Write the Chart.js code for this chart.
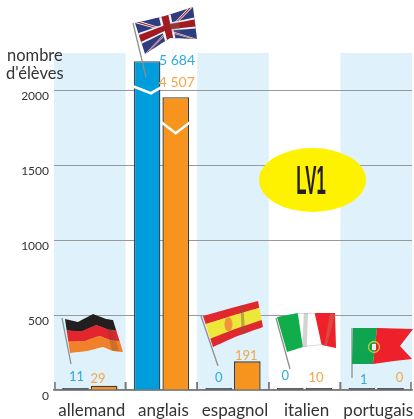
<!DOCTYPE html>
<html><head><meta charset="utf-8">
<style>html,body{margin:0;padding:0;background:#fff}canvas{display:block}</style>
<script src="https://cdn.jsdelivr.net/npm/chart.js@4"></script></head>
<body><canvas id="c" width="414" height="419"></canvas>
<script>
const categories = ["allemand","anglais","espagnol","italien","portugais"];
// real numbers of pupils, printed above the bars
const lv1Blue = [11,5684,0,0,1];
const lv1Orange = [29,4507,191,10,0];
// heights as drawn: the two large bars are cut by an axis break
const drawnBlue = [11,2192,0,0,1];
const drawnOrange = [29,1952,191,10,0];
const yTicks = [0,500,1000,1500,2000];
const blueColor = "#009ddc", orangeColor = "#f7941d";
const FONT = "Lato, 'Open Sans', sans-serif";
const fmt = v => String(v).replace(/\B(?=(\d{3})+$)/g," ");

// label nudges relative to the bar top
const blueNudge = [[1,-11],[30,-1],[0,-10],[-5,-12],[2,-8]];
const orangeNudge = [[-6,-7],[1,-15],[-1,-6],[-3,-10],[9,-10]];

function mapper(top,bot){
  const lerp=(pts,u0)=>{const u=Math.max(0,Math.min(1,u0)),t=u*(pts.length-1),i=Math.min(Math.floor(t),pts.length-2),f=t-i;
    return [pts[i][0]+(pts[i+1][0]-pts[i][0])*f,pts[i][1]+(pts[i+1][1]-pts[i][1])*f];};
  return (u,v)=>{const a=lerp(top,u),b=lerp(bot,u);return [a[0]+(b[0]-a[0])*v,a[1]+(b[1]-a[1])*v];};
}
function poly(ctx,m,uv,col){
  ctx.fillStyle=col;ctx.beginPath();
  uv.forEach((p,i)=>{const q=m(p[0],p[1]);i?ctx.lineTo(q[0],q[1]):ctx.moveTo(q[0],q[1]);});
  ctx.closePath();ctx.fill();
}
function rectUV(ctx,m,u0,u1,v0,v1,col){
  const n=12,uv=[];
  for(let i=0;i<=n;i++)uv.push([u0+(u1-u0)*i/n,v0]);
  for(let i=n;i>=0;i--)uv.push([u0+(u1-u0)*i/n,v1]);
  poly(ctx,m,uv,col);
}
function pole(ctx,a,b){ctx.strokeStyle="#8f8f8f";ctx.lineWidth=1.3;ctx.beginPath();ctx.moveTo(a[0],a[1]);ctx.lineTo(b[0],b[1]);ctx.stroke();}
function drawFlags(ctx){
  // Germany
  let m=mapper([[65,319],[78,322],[93,314],[106,319],[113,320]],[[70,353],[87,351],[103,347],[113,351],[123,352]]);
  pole(ctx,[62,318],[71,364]);
  rectUV(ctx,m,0,1,0,.34,"#231f20");rectUV(ctx,m,0,1,.33,.67,"#e2252f");rectUV(ctx,m,0,1,.66,1,"#f0812a");
  rectUV(ctx,m,.72,.9,.3,1,"rgba(120,70,50,.3)");
  // Spain
  m=mapper([[203,316],[235,307],[258,301]],[[213,347],[235,337],[263,327]]);
  pole(ctx,[201,316],[218,366]);
  rectUV(ctx,m,0,1,0,.27,"#e1282f");rectUV(ctx,m,0,1,.26,.74,"#ece738");rectUV(ctx,m,0,1,.73,1,"#e1282f");
  rectUV(ctx,m,.62,.68,0,1,"rgba(120,90,70,.45)");
  ctx.fillStyle="#f2953a";ctx.beginPath();let q=m(.38,.5);ctx.ellipse(q[0],q[1],4,7,0,0,7);ctx.fill();
  // Italy
  m=mapper([[277,317],[298,313],[315,313],[335,313]],[[287,352],[303,347],[322,345],[336,348]]);
  pole(ctx,[276,318],[290,369]);
  rectUV(ctx,m,0,.34,0,1,"#12ad4b");rectUV(ctx,m,.33,.67,0,1,"#ffffff");rectUV(ctx,m,.66,1,0,1,"#ee2029");
  rectUV(ctx,m,.33,.67,0,.025,"#d5d5d5");rectUV(ctx,m,.33,.67,.975,1,"#d5d5d5");
  poly(ctx,m,[[.45,0],[.53,0],[.4,1],[.31,1]],"rgba(140,150,140,.4)");
  poly(ctx,m,[[.92,0],[1,.05],[.78,1],[.72,1]],"rgba(200,120,90,.45)");
  // Portugal
  m=mapper([[353,328],[377,328],[413,329]],[[352,364],[373,364],[410,359]]);
  pole(ctx,[352,328],[352,378]);
  rectUV(ctx,m,0,.5,0,1,"#0fa44f");
  ctx.fillStyle="#ee2029";ctx.beginPath();
  [[377,328],[413,329],[400,346],[412,359],[394,361],[373,364]].forEach((p,i)=>i?ctx.lineTo(p[0],p[1]):ctx.moveTo(p[0],p[1]));ctx.closePath();ctx.fill();
  ctx.strokeStyle="#c9c83a";ctx.lineWidth=1.3;ctx.beginPath();ctx.arc(374,347,5.5,0,7);ctx.stroke();
  ctx.fillStyle="#eee";ctx.fillRect(372,344,4,6);
  // United Kingdom
  m=mapper([[135,23],[165,16],[193,7]],[[145,54],[170,38],[197,39]]);
  pole(ctx,[133,23],[146,77]);
  rectUV(ctx,m,0,1,0,1,"#2f3c80");
  const diag=(a,b,w,c)=>poly(ctx,m,[[a[0]-w,a[1]],[a[0]+w,a[1]],[b[0]+w,b[1]],[b[0]-w,b[1]]],c);
  diag([.05,0],[.95,1],.05,"#f4f4f4");diag([.95,0],[.05,1],.05,"#f4f4f4");
  diag([.05,0],[.95,1],.02,"#a11a22");diag([.95,0],[.05,1],.02,"#a11a22");
  rectUV(ctx,m,.4,.6,0,1,"#f4f4f4");rectUV(ctx,m,0,1,.33,.67,"#f4f4f4");
  rectUV(ctx,m,.44,.56,0,1,"#a11a22");rectUV(ctx,m,0,1,.39,.61,"#a11a22");
  rectUV(ctx,m,.55,.72,.35,.75,"rgba(130,110,110,.35)");
}

const decor = {
  id:"decor",
  beforeDraw(chart){
    const {ctx,chartArea:a,scales:{x}}=chart;
    const half=(x.getPixelForTick(1)-x.getPixelForTick(0))/2;
    ctx.save();ctx.fillStyle="#dff1fb";
    [0,2,4].forEach(i=>{const c=x.getPixelForTick(i);ctx.fillRect(c-half,a.top,half*2,a.bottom-a.top);});
    ctx.restore();
  },
  afterDatasetsDraw(chart){
    const {ctx,chartArea:a,scales:{x,y}}=chart;
    const half=(x.getPixelForTick(1)-x.getPixelForTick(0))/2;
    ctx.save();
    // baseline and separators
    ctx.strokeStyle="#7a7a7a";ctx.lineWidth=1.6;
    categories.forEach((c,i)=>{
      const px=x.getPixelForTick(i);
      [px-half,px+half].forEach(e=>{const xx=e+(e<a.left+1?1:(e>a.right-1?-1:0));ctx.beginPath();ctx.moveTo(xx,a.bottom-8);ctx.lineTo(xx,a.bottom);ctx.stroke();});
    });
    // axis break chevrons
    const bb=chart.getDatasetMeta(0).data[1], ob=chart.getDatasetMeta(1).data[1];
    ctx.strokeStyle="#fff";ctx.lineWidth=2.6;ctx.lineJoin="miter";
    ctx.beginPath();ctx.moveTo(bb.x-bb.width/2-1,bb.y+25);ctx.lineTo(bb.x+4,bb.y+32);ctx.lineTo(bb.x+bb.width/2+1,bb.y+26);ctx.stroke();
    ctx.beginPath();ctx.moveTo(ob.x-ob.width/2-1,ob.y+25);ctx.lineTo(ob.x,ob.y+36);ctx.lineTo(ob.x+ob.width/2+1,ob.y+25);ctx.stroke();
    // value labels
    ctx.textAlign="center";ctx.textBaseline="middle";
    [[0,lv1Blue,blueNudge,"#2fa9e3"],[1,lv1Orange,orangeNudge,"#f6a548"]].forEach(([d,vals,nudge,col])=>{
      const meta=chart.getDatasetMeta(d);
      ctx.fillStyle=col;
      vals.forEach((v,i)=>{
        const el=meta.data[i];
        ctx.font=(v>999?"14px ":"13px ")+FONT;
        ctx.fillText(fmt(v),el.x+nudge[i][0],el.y+nudge[i][1]);
      });
    });
    drawFlags(ctx);
    // LV1 badge
    ctx.fillStyle="#fff200";ctx.beginPath();ctx.ellipse(312.5,180,53.5,32,0,0,7);ctx.fill();
    ctx.save();ctx.translate(311,194);ctx.scale(.42,1);
    ctx.fillStyle="#231f20";ctx.font="bold 40px 'Liberation Sans Narrow','Liberation Sans',sans-serif";
    ctx.textAlign="center";ctx.textBaseline="alphabetic";ctx.fillText("LV1",0,0);ctx.restore();
    // axis title
    ctx.fillStyle="#333";ctx.font="16.5px "+FONT;ctx.textAlign="left";ctx.textBaseline="middle";
    ctx.fillText("nombre",7,56);ctx.fillText("d'élèves",6,74);
    ctx.restore();
  }
};

const barFill = base => c => (c.raw <= 11 ? "#2b3a42" : base);
new Chart(document.getElementById("c"),{
  type:"bar",
  data:{labels:categories,datasets:[
    {label:"bleu",data:drawnBlue,backgroundColor:barFill(blueColor),borderColor:"#3f4a50",borderWidth:1.4,minBarLength:2},
    {label:"orange",data:drawnOrange,backgroundColor:barFill(orangeColor),borderColor:"#3f3a34",borderWidth:1.4,minBarLength:2}
  ]},
  plugins:[decor],
  options:{
    responsive:false,animation:false,
    layout:{padding:{top:53,right:2,left:0,bottom:0}},
    datasets:{bar:{categoryPercentage:.8,barPercentage:.93}},
    plugins:{legend:{display:false},tooltip:{enabled:false}},
    scales:{
      x:{
        afterFit(s){s.height=29;},
        grid:{display:false},
        border:{color:"#7a7a7a",width:1.6},
        ticks:{color:"#333",font:{family:FONT,size:17},padding:2,labelOffset:2,maxRotation:0,autoSkip:false}
      },
      y:{
        min:0,max:2246.67,
        afterFit(s){s.width=54;},
        afterBuildTicks(s){s.ticks=yTicks.map(v=>({value:v}));},
        border:{display:false},
        grid:{color:"#999",lineWidth:1,drawTicks:false},
        ticks:{color:"#333",font:{family:FONT,size:12,lineHeight:1},padding:5,autoSkip:false,
          callback:v=>["",String(v)]}
      }
    }
  }
});
</script></body></html>
